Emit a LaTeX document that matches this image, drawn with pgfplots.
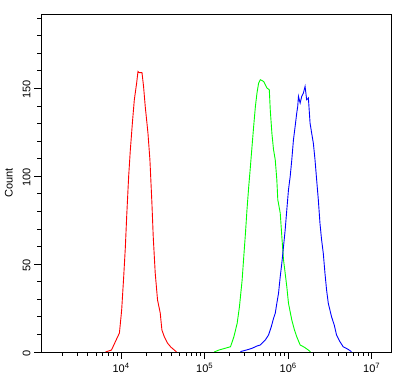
\documentclass[border=0pt]{standalone}
\usepackage{fontspec}
\setmainfont{Liberation Sans}
\usepackage{pgfplots}
\pgfplotsset{compat=1.18}
\begin{document}
\begin{tikzpicture}[x=1pt,y=1pt]
\begin{axis}[
  at={(0,0)}, anchor=south west,
  scale only axis, width=350pt, height=337.5pt,
  xmode=log, log basis x=10,
  xmin=1100, xmax=1.7e7,
  ymin=0, ymax=192,
  xtick={1e4,1e5,1e6,1e7},
  xticklabels={10\textsuperscript{4},10\textsuperscript{5},10\textsuperscript{6},10\textsuperscript{7}},
  minor xtick={2000,3000,4000,5000,6000,7000,8000,9000,
    20000,30000,40000,50000,60000,70000,80000,90000,
    200000,300000,400000,500000,600000,700000,800000,900000,
    2000000,3000000,4000000,5000000,6000000,7000000,8000000,9000000},
  ytick={0,50,100,150},
  minor ytick={10,20,30,40,60,70,80,90,110,120,130,140,160,170,180,190},
  tick align=outside,
  xtick pos=bottom, ytick pos=left,
  major tick length=7pt, minor tick length=4pt,
  every tick/.style={black, line width=0.8pt},
  axis line style={line width=0.8pt},
  /pgf/number format/assume math mode=true,
  tick label style={font=\fontsize{11}{13}\selectfont},
  yticklabel style={rotate=90, anchor=south, xshift=-1pt},
  xticklabel style={yshift=-1pt},
  ylabel={Count},
  ylabel style={font=\fontsize{11}{13}\selectfont, yshift=3pt},
  clip=true,
]
\addplot[red, line width=0.9pt] coordinates {
(6500,0) (7670,1.1) (9550,10.8) (10160,23.9) (10740,42.7) (11250,59.8) (11660,76.9)
(12310,99.7) (12900,115) (13740,132) (14400,143.5) (15350,153) (15930,159.6)
(16500,158.9) (17780,159) (18580,151) (19450,139.7) (20950,124.7) (22130,109.3)
(23370,84.9) (24250,65.5) (25600,45) (27300,29.6) (29400,22.2) (30800,12.5)
(33000,8.5) (35900,5.1) (39400,2.8) (43400,1.1) (46000,0)
};
\addplot[green, line width=0.9pt] coordinates {
(130000,0) (148000,1.1) (204000,3.0) (224000,8.7) (245000,16.3) (261000,25.8)
(281000,41) (294000,54.3) (308000,67.6) (321000,80.8) (337000,94.1) (353000,105.5)
(369000,116.9) (386000,128.3) (405000,139.7) (423000,147.3) (443000,153)
(464000,154.9) (508000,153.9) (556000,150.2) (594000,149.2) (610000,137.8)
(638000,124.5) (668000,115) (700000,109.3) (731000,98) (751000,86.6) (803000,79)
(839000,65.7) (879000,52.4) (920000,44.8) (962000,37.2) (1008000,27.7)
(1104000,18.2) (1189000,12.5) (1265000,8.7) (1390000,4.0) (1563000,2.7)
(1745000,1.1) (1850000,0)
};
\addplot[blue, line width=0.9pt] coordinates {
(268000,0.2) (337000,1.5) (369000,2.1) (423000,3.4) (464000,4.0) (532000,6.8)
(582000,9.7) (628000,14.4) (668000,19.2) (700000,22.0) (731000,27.7) (766000,33.4)
(803000,42.9) (839000,50.5) (879000,60.0) (920000,69.5) (962000,80.8)
(1008000,92.3) (1056000,99.8) (1104000,109.3) (1156000,120.7) (1211000,128.3)
(1265000,135.9) (1300000,139.7) (1327000,145.4) (1390000,141.6) (1452000,145.4)
(1520000,147.3) (1592000,151.1) (1664000,143.5) (1745000,144.5) (1827000,130.2)
(1910000,124.5) (2000000,118.8) (2094000,109.3) (2190000,98) (2294000,86.6)
(2400000,73.3) (2510000,63.8) (2630000,56.2) (2755000,44.8) (2880000,35.3)
(3020000,27.7) (3300000,20.1) (3556000,15.4) (3790000,9.7) (4160000,5.9)
(4550000,3.0) (5220000,1.5) (5710000,0.2)
};
\end{axis}
\pgfresetboundingbox
\path (-41pt,-31pt) rectangle (359pt,352pt);
\end{tikzpicture}
\end{document}
